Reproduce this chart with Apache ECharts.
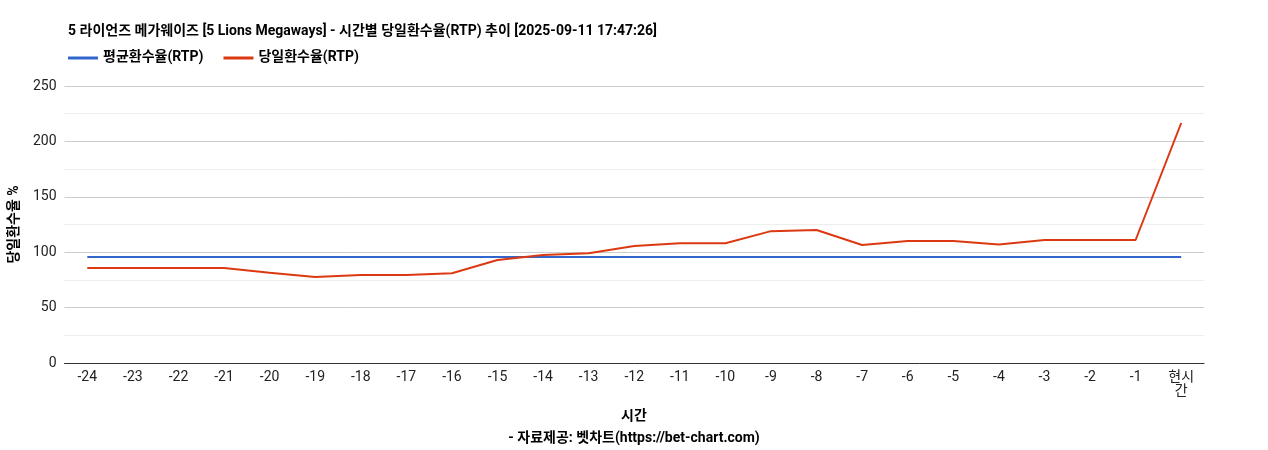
<!DOCTYPE html>
<html><head><meta charset="utf-8">
<script src="https://cdn.jsdelivr.net/npm/echarts@6/dist/echarts.min.js"></script>
<style>html,body{margin:0;padding:0;background:#fff}#c{width:1268px;height:450px}</style>
</head><body><div id="c"></div>
<script>
const categories = ['-24','-23','-22','-21','-20','-19','-18','-17','-16','-15','-14','-13','-12','-11','-10','-9','-8','-7','-6','-5','-4','-3','-2','-1','현시\n간'];
const avgRtp = [95.7,95.7,95.7,95.7,95.7,95.7,95.7,95.7,95.7,95.7,95.7,95.7,95.7,95.7,95.7,95.7,95.7,95.7,95.7,95.7,95.7,95.7,95.7,95.7,95.7];
const dailyRtp = [85.7,85.7,85.7,85.7,81.5,77.6,79.4,79.4,81,93,97.5,99,105.6,108,108,119,120,106.5,110,110,107,111,111,111,216.6];
const font = 'Roboto, "Noto Sans CJK KR", sans-serif';
const chart = echarts.init(document.getElementById('c'));
chart.setOption({
  animation:false,
  textStyle:{fontFamily:font},
  title:[{text:'5 라이언즈 메가웨이즈 [5 Lions Megaways] - 시간별 당일환수율(RTP) 추이 [2025-09-11 17:47:26]',left:63,top:20,textStyle:{fontSize:14,fontWeight:'bold',color:'#000',fontFamily:font}},
         {text:'시간',left:'center',top:405,textStyle:{fontSize:14,fontWeight:'bold',color:'#000',fontFamily:font}},
         {text:'- 자료제공: 벳차트(https://bet-chart.com)',left:'center',top:427,textStyle:{fontSize:14,fontWeight:'bold',color:'#000',fontFamily:font}}],
  legend:{left:63,top:46,itemWidth:30,itemHeight:3,itemGap:20,icon:'rect',textStyle:{fontSize:14,fontWeight:'bold',color:'#000'},data:['평균환수율(RTP)','당일환수율(RTP)']},
  grid:{left:63,right:64,top:86,bottom:87},
  xAxis:{type:'category',data:categories,boundaryGap:true,
    axisLine:{lineStyle:{color:'#333'}},axisTick:{show:false},
    axisLabel:{color:'#222',fontSize:14,margin:8,interval:0}},
  yAxis:{type:'value',min:0,max:250,interval:50,name:'당일환수율 %',nameLocation:'middle',nameGap:42,
    nameTextStyle:{fontSize:14,fontWeight:'bold',color:'#000'},
    axisLine:{show:false},axisTick:{show:false},
    axisLabel:{color:'#222',fontSize:14},
    splitLine:{lineStyle:{color:'#ccc'}},
    minorTick:{show:false,splitNumber:2},minorSplitLine:{show:true,lineStyle:{color:'#eee'}}},
  series:[
    {name:'평균환수율(RTP)',type:'line',data:avgRtp,symbol:'none',lineStyle:{width:2,color:'#3366cc'},itemStyle:{color:'#3366cc'}},
    {name:'당일환수율(RTP)',type:'line',data:dailyRtp,symbol:'none',lineStyle:{width:2,color:'#dc3912'},itemStyle:{color:'#dc3912'}}
  ]
});
</script></body></html>
